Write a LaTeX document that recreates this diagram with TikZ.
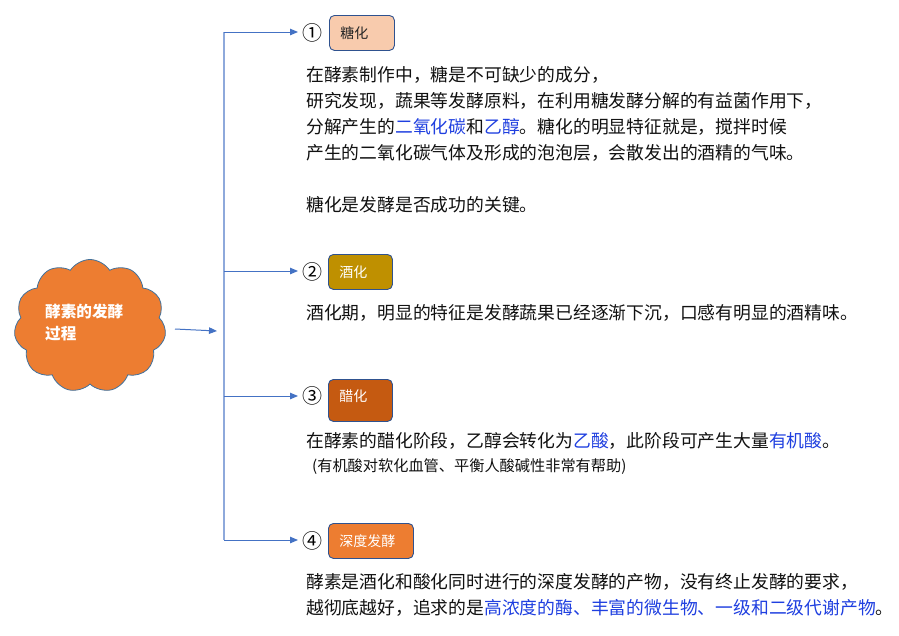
\documentclass[tikz,border=0pt]{standalone}
\usepackage{fontspec}
\newfontfamily\cjk{Noto Sans CJK SC}
\usetikzlibrary{arrows.meta,shapes.symbols}
\definecolor{hl}{HTML}{1F3FE0}
\definecolor{txt}{HTML}{111111}
\definecolor{bord}{HTML}{2F528F}
\definecolor{cbord}{HTML}{41719C}
\definecolor{spine}{HTML}{8EA9DB}
\definecolor{arr}{HTML}{4472C4}
\definecolor{peach}{HTML}{F8CBAD}
\definecolor{gold}{HTML}{BF9000}
\definecolor{rust}{HTML}{C55A11}
\definecolor{orng}{HTML}{ED7D31}
\begin{document}
\begin{tikzpicture}[x=1pt,y=-1pt,
  body/.style={anchor=base west,inner sep=0pt,text=txt,font=\cjk\fontsize{17.8pt}{21pt}\selectfont},
  small/.style={anchor=base west,inner sep=0pt,text=txt,font=\cjk\fontsize{15.2pt}{17pt}\selectfont},
  num/.style={inner sep=0pt,text=black,font=\cjk\fontsize{20pt}{22pt}\selectfont},
  stagebox/.style={draw=bord,line width=0.9pt,rounded corners=5pt,inner xsep=11pt,inner ysep=0pt,
    minimum height=35pt,align=left,anchor=north west,text height=12pt,text depth=1.5pt,
    font=\cjk\fontsize{14pt}{16pt}\selectfont,text=white},
  branch/.style={draw=arr,line width=1pt,-{Triangle[length=8pt,width=6.5pt]}}
]
\useasboundingbox (0,0) rectangle (899,635);
\fill[white] (0,0) rectangle (899,635);

% cloud
\node[cloud,cloud puffs=11,cloud puff arc=115,aspect=1.15,draw=cbord,line width=0.8pt,fill=orng,
  minimum width=152pt,minimum height=133pt,inner sep=0pt] (cloud) at (90,326) {};
\node[anchor=west,inner sep=0pt,align=left,text=white,
  font=\cjk\bfseries\fontsize{15.6pt}{22pt}\selectfont] (cloudtext) at (45,323) {酵素的发酵\\过程};

% spine and arrows
\coordinate (s1) at (224,32);
\coordinate (s2) at (224,271);
\coordinate (s3) at (224,396);
\coordinate (s4) at (224,540);
\coordinate (e1) at (298,32);
\coordinate (e2) at (298,271);
\coordinate (e3) at (298,396);
\coordinate (e4) at (298,540);
\coordinate (c0) at (175,329);
\coordinate (c1) at (217,331);
\draw[spine,line width=1.5pt] (s1) -- (s4);
\draw[branch] (s1) -- (e1);
\draw[branch] (s2) -- (e2);
\draw[branch] (s3) -- (e3);
\draw[branch] (s4) -- (e4);
\draw[branch] (c0) -- (c1);

% numbers
\node[num] (n1) at (312.5,33) {①};
\node[num] (n2) at (312.5,272) {②};
\node[num] (n3) at (312.5,396) {③};
\node[num] (n4) at (312.5,541) {④};

% stage boxes
\node[stagebox,fill=peach,text=black!85,text width=43pt] (b1) at (329,15) {糖化};
\node[stagebox,fill=gold,text width=42pt] (b2) at (328,254) {酒化};
\node[stagebox,fill=rust,text width=42pt,minimum height=42pt,text depth=9pt] (b3) at (328,379) {醋化};
\node[stagebox,fill=orng,text width=63pt] (b4) at (328,523) {深度发酵};

% block 1
\node[body] (t11) at (306,81.8) {在酵素制作中，糖是不可缺少的成分，};
\node[body] (t12) at (306,107.8) {研究发现，蔬果等发酵原料，在利用糖发酵分解的有益菌作用下，};
\node[body] (t13) at (306,133.8) {分解产生的\textcolor{hl}{二氧化碳}和\textcolor{hl}{乙醇}。糖化的明显特征就是，搅拌时候};
\node[body] (t14) at (306,159.3) {产生的二氧化碳气体及形成的泡泡层，会散发出的酒精的气味。};
\node[body] (t15) at (306,211.8) {糖化是发酵是否成功的关键。};

% block 2
\node[body] (t21) at (306,319.8) {酒化期，明显的特征是发酵蔬果已经逐渐下沉，口感有明显的酒精味。};

% block 3
\node[body] (t31) at (306,447.8) {在酵素的醋化阶段，乙醇会转化为\textcolor{hl}{乙酸}，此阶段可产生大量\textcolor{hl}{有机酸}。};
\node[small] (t32) at (312,471.5) {(有机酸对软化血管、平衡人酸碱性非常有帮助)};

% block 4
\node[body] (t41) at (306,588.8) {酵素是酒化和酸化同时进行的深度发酵的产物，没有终止发酵的要求，};
\node[body] (t42) at (306,614.8) {越彻底越好，追求的是\textcolor{hl}{高浓度的酶、丰富的微生物、一级和二级代谢产物}。};
\end{tikzpicture}
\end{document}
